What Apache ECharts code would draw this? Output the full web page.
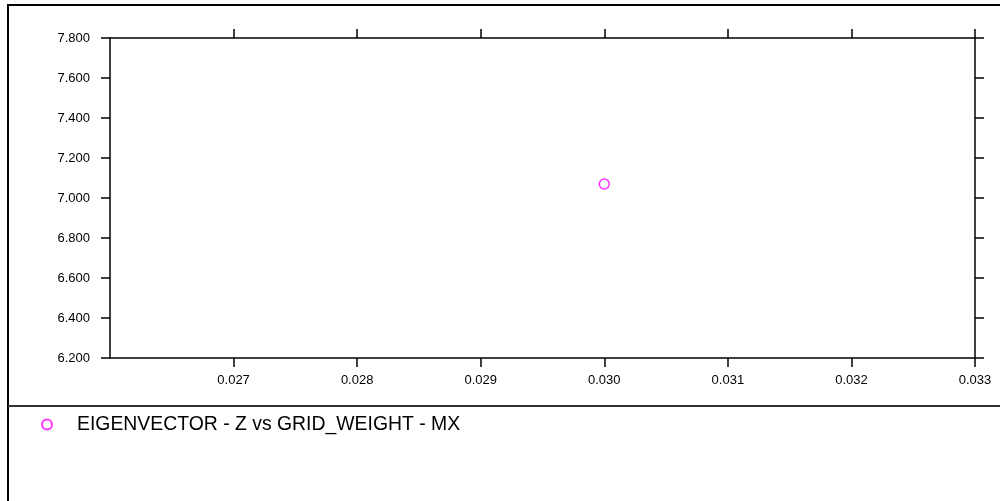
<!DOCTYPE html>
<html>
<head>
<meta charset="utf-8">
<style>
  html, body { margin: 0; padding: 0; background: #ffffff; }
  #chart { width: 1000px; height: 501px; }
</style>
<script src="https://cdn.jsdelivr.net/npm/echarts@6/dist/echarts.min.js"></script>
</head>
<body>
<div id="chart"></div>
<script>
// Axis ranges and tick spacing
const xRange = [0.026, 0.033];
const xStep = 0.001;
const yRange = [6.2, 7.8];
const yStep = 0.2;

// Series data: grid weight (x) vs eigenvector Z (y)
const seriesName = 'EIGENVECTOR - Z vs GRID_WEIGHT - MX';
const gridWeight = [0.030];
const eigenvectorZ = [7.07];

const FONT = 'Liberation Sans, Arial, sans-serif';
const MAGENTA = '#ff00ff';

const points = gridWeight.map((x, i) => [x, eigenvectorZ[i]]);

// X ticks skip the range start (the corner carries no tick)
const xTickValues = [];
for (let k = 1; xRange[0] + k * xStep <= xRange[1] + 1e-9; k++) {
  xTickValues.push(+(xRange[0] + k * xStep).toFixed(6));
}

const axisLine = { show: true, onZero: false, lineStyle: { color: '#000', width: 1.5 } };
const axisTick = { show: true, inside: false, length: 9, lineStyle: { color: '#000', width: 1.5 } };
const xAxisTick = Object.assign({}, axisTick, { customValues: xTickValues });

const chart = echarts.init(document.getElementById('chart'), null, { renderer: 'canvas' });

chart.setOption({
  animation: false,
  backgroundColor: '#ffffff',
  grid: { left: 110, top: 38, right: 25, bottom: 143, containLabel: false },
  xAxis: [
    {
      type: 'value', position: 'bottom',
      min: xRange[0], max: xRange[1], interval: xStep,
      axisLine, axisTick: xAxisTick, splitLine: { show: false },
      axisLabel: {
        margin: 16, color: '#000', fontFamily: FONT, fontSize: 13,
        customValues: xTickValues,
        formatter: v => v.toFixed(3)
      }
    },
    {
      type: 'value', position: 'top',
      min: xRange[0], max: xRange[1], interval: xStep,
      axisLine, axisTick: xAxisTick, splitLine: { show: false },
      axisLabel: { show: false }
    }
  ],
  yAxis: [
    {
      type: 'value', position: 'left',
      min: yRange[0], max: yRange[1], interval: yStep,
      axisLine, axisTick, splitLine: { show: false },
      axisLabel: {
        margin: 20, color: '#000', fontFamily: FONT, fontSize: 13,
        formatter: v => v.toFixed(3)
      }
    },
    {
      type: 'value', position: 'right',
      min: yRange[0], max: yRange[1], interval: yStep,
      axisLine, axisTick, splitLine: { show: false },
      axisLabel: { show: false }
    }
  ],
  legend: {
    left: 36, top: 410,
    itemWidth: 10, itemHeight: 10,
    icon: 'circle',
    textStyle: { color: '#000', fontFamily: FONT, fontSize: 19.4, padding: [0, 0, 0, 20] },
    data: [seriesName]
  },
  graphic: [
    {
      type: 'rect', silent: true, z: -1,
      shape: { x: 8, y: 5, width: 1100, height: 600 },
      style: { fill: 'none', stroke: '#000', lineWidth: 2 }
    },
    {
      type: 'line', silent: true,
      shape: { x1: 8, y1: 406, x2: 1000, y2: 406 },
      style: { stroke: '#333', lineWidth: 2 }
    }
  ],
  series: [
    {
      name: seriesName,
      type: 'scatter',
      data: points,
      symbol: 'circle',
      symbolSize: 10,
      itemStyle: { color: '#ffffff', borderColor: MAGENTA, borderWidth: 1.5 }
    }
  ]
});
</script>
</body>
</html>
